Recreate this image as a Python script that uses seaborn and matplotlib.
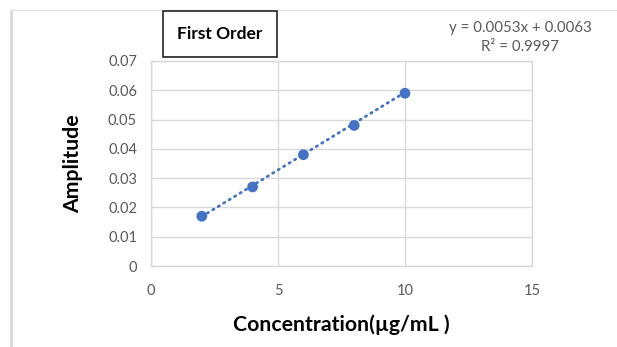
import numpy as np
import pandas as pd
import matplotlib
matplotlib.use("Agg")
import matplotlib.pyplot as plt
from matplotlib.lines import Line2D
import seaborn as sns

# Calibration data
concentration = [2, 4, 6, 8, 10]
amplitude = [0.017, 0.027, 0.038, 0.048, 0.059]

# Linear trendline coefficients
slope = 0.0053
intercept = 0.0063
r_squared = 0.9997

x_ticks = [0, 5, 10, 15]
y_ticks = [0, 0.01, 0.02, 0.03, 0.04, 0.05, 0.06, 0.07]
y_tick_labels = ["0", "0.01", "0.02", "0.03", "0.04", "0.05", "0.06", "0.07"]

sns.set_theme(style="white")
plt.rcParams["font.family"] = ["Lato", "DejaVu Sans"]

blue = "#4472C4"
grid_c = "#d9d9d9"
text_c = "#595959"

fig = plt.figure(figsize=(6.17, 3.47), dpi=100)
ax = fig.add_axes([151 / 617, 1 - 266 / 347, (532 - 151) / 617, (266 - 61) / 347])

df = pd.DataFrame({"Concentration": concentration, "Amplitude": amplitude})
trend = pd.DataFrame({"x": [concentration[0], concentration[-1]]})
trend["y"] = slope * trend["x"] + intercept

sns.lineplot(data=trend, x="x", y="y", ax=ax, color=blue, lw=2,
             linestyle=(0, (0.5, 1.8)), dash_capstyle="round", zorder=2)
sns.scatterplot(data=df, x="Concentration", y="Amplitude", ax=ax, color=blue,
                s=60, edgecolor="none", zorder=3)

ax.set_xlim(0, 15)
ax.set_ylim(0, 0.07)
ax.set_xticks(x_ticks)
ax.set_yticks(y_ticks)
ax.set_yticklabels(y_tick_labels)
ax.grid(True, color=grid_c, lw=1)
ax.set_axisbelow(True)
for s in ax.spines.values():
    s.set_color(grid_c)
    s.set_linewidth(1)
ax.tick_params(axis="both", length=0, labelsize=10.5, colors=text_c)
ax.tick_params(axis="x", pad=13)
ax.tick_params(axis="y", pad=10)

ax.set_xlabel("Concentration(µg/mL )", fontsize=15.3, fontweight="bold",
              color="black", labelpad=12)
ax.set_ylabel("Amplitude", fontsize=15.3, fontweight="bold", color="black",
              labelpad=18)

# Title box
fig.text(220 / 617, 1 - 34 / 347, "First Order", ha="center", va="center",
         fontsize=12.5, fontweight="bold", color="black",
         bbox=dict(boxstyle="square,pad=0.85", fc="white", ec="#222222", lw=1.2))

# Trendline equation
fig.text(520 / 617, 1 - 28 / 347, f"y = {slope}x + {intercept}", ha="center",
         va="center", fontsize=10.8, color=text_c)
fig.text(520 / 617, 1 - 47 / 347, f"R² = {r_squared}", ha="center",
         va="center", fontsize=10.8, color=text_c)

# Outer frame edges
fig.add_artist(Line2D([11 / 617, 11 / 617], [0, 1 - 10 / 347],
                      transform=fig.transFigure, color="#d9d9d9", lw=2))
fig.add_artist(Line2D([11 / 617, 1], [1 - 10 / 347, 1 - 10 / 347],
                      transform=fig.transFigure, color="#e3e3e3", lw=1))

fig.savefig("out.png", dpi=100)
